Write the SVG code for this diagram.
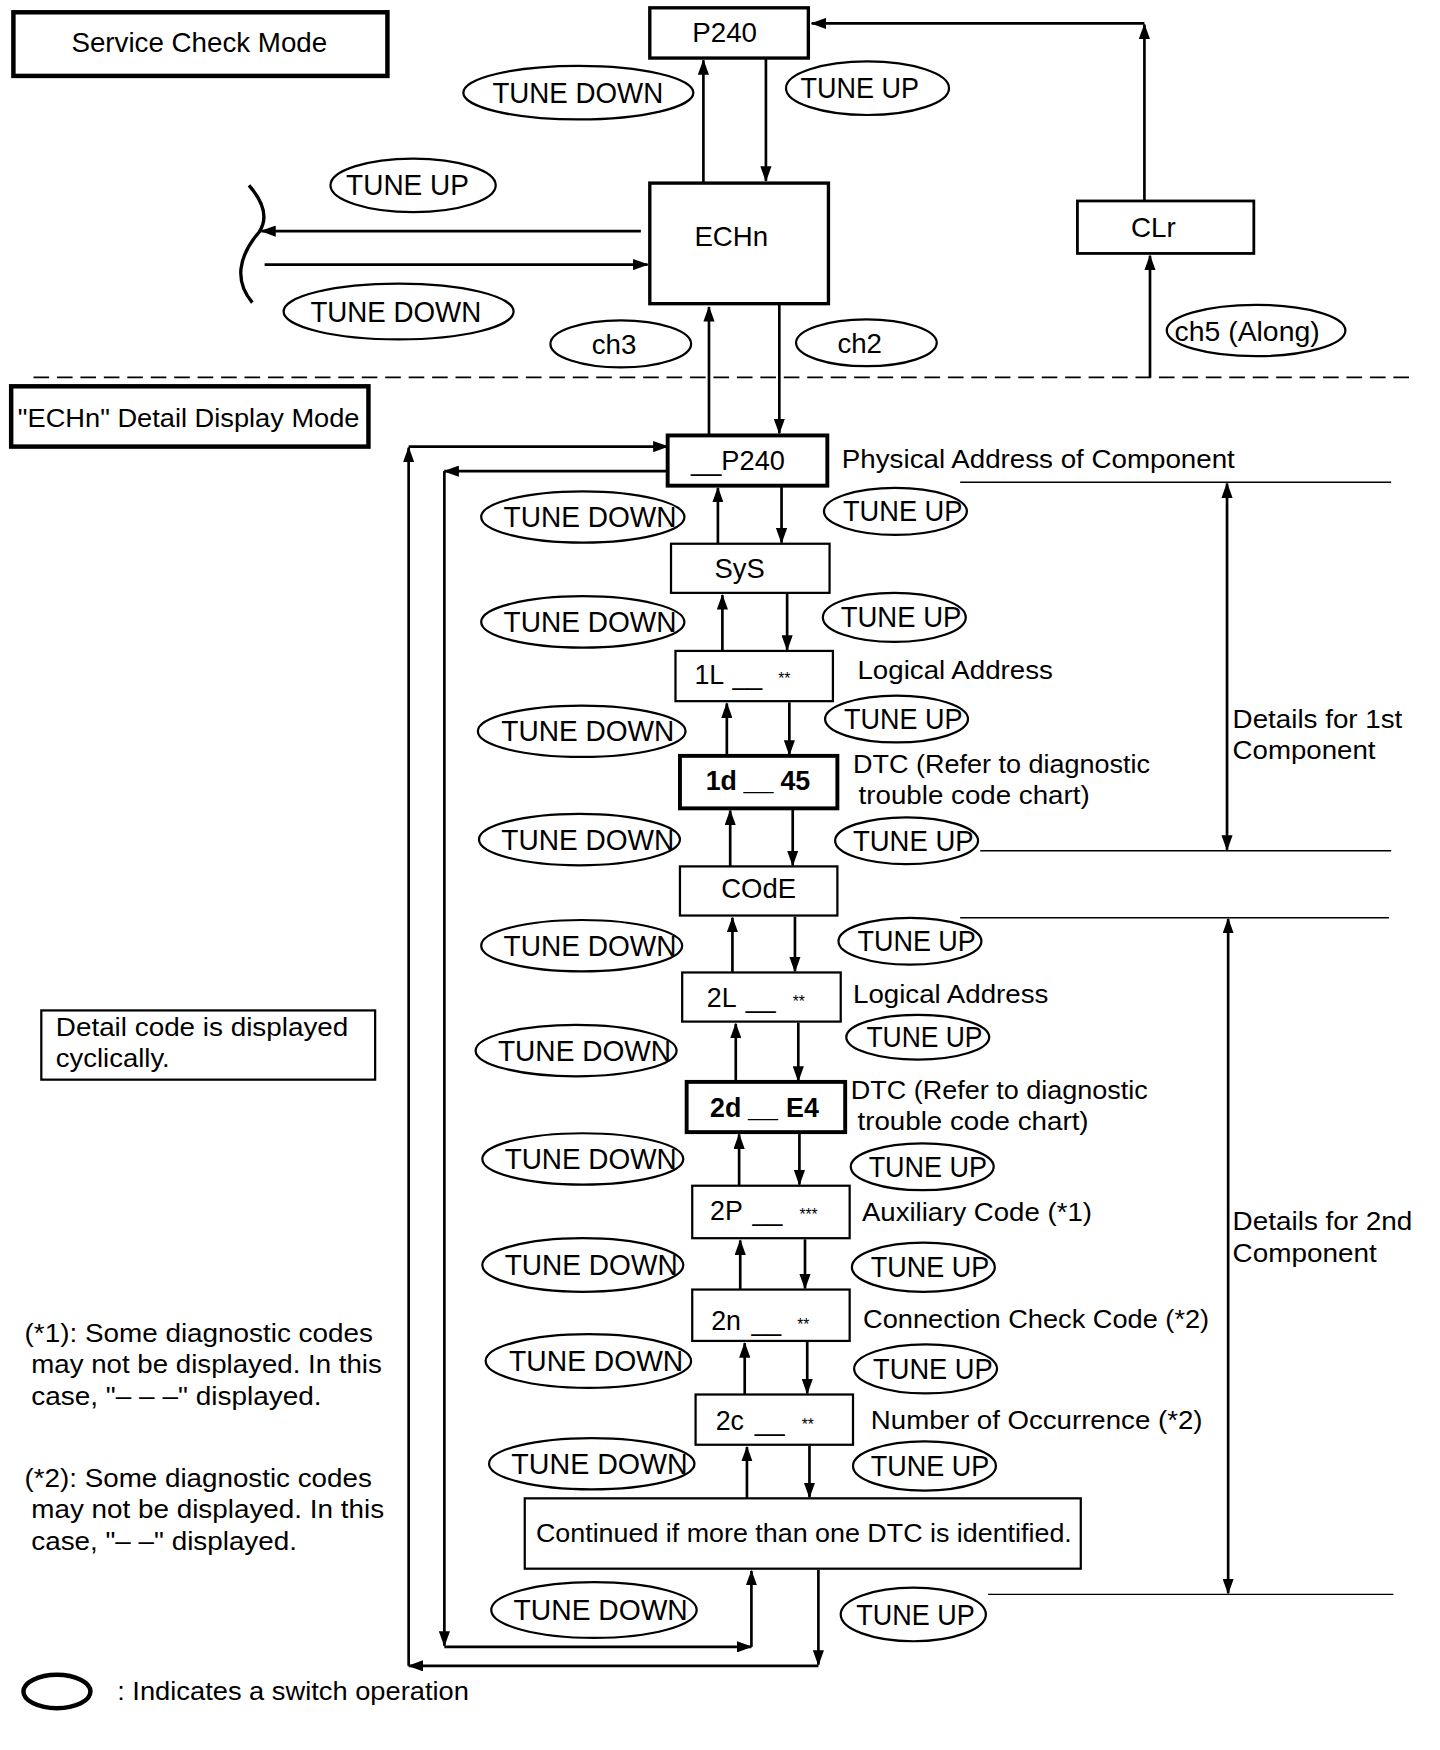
<svg xmlns="http://www.w3.org/2000/svg" width="1440" height="1750" viewBox="0 0 1440 1750">
<defs>
<style>
text{font-family:"Liberation Sans",Arial,Helvetica,sans-serif;fill:#000}
.box{fill:#fff;stroke:#000;stroke-width:2}
.thick{fill:#fff;stroke:#000;stroke-width:3.5}
.sw{fill:#fff;stroke:#000;stroke-width:2}
.ln{fill:none;stroke:#000;stroke-width:2.4}
.thin{fill:none;stroke:#000;stroke-width:1.3}
.ar{fill:none;stroke:#000;stroke-width:2.4;marker-end:url(#ah)}
.dar{fill:none;stroke:#000;stroke-width:2.4;marker-end:url(#ah);marker-start:url(#ah)}
.t26{font-size:26px}
.t24{font-size:24px}
.t23{font-size:23px}
.b{font-weight:bold}
</style>
<marker id="ah" viewBox="0 0 14 10" refX="13" refY="5" markerWidth="14" markerHeight="10" markerUnits="userSpaceOnUse" orient="auto-start-reverse">
<path d="M0,0 L14,5 L0,10 z" fill="#000"/>
</marker>
</defs>
<rect width="1440" height="1750" fill="#fff"/>
<g transform="scale(1.1165)">

<g id="connectors">
<path class="ar" d="M630,163 L630,54"/>
<path class="ar" d="M686,52 L686,162"/>
<path class="ar" d="M574,207 L234,207"/>
<path class="ar" d="M237,237 L580,237"/>
<path class="ar" d="M635,390 L635,275"/>
<path class="ar" d="M698,273 L698,388"/>
<path class="ar" d="M1030,338 L1030,229"/>
<path class="ar" d="M1025,180 L1025,22"/>
<path class="ar" d="M1025,21 L727,21"/>
<path d="M223,166 C237,182 240,196 232,208 C213,230 210,252 226,271" fill="none" stroke="#000" stroke-width="3"/>
<path d="M30,338 L1262,338" fill="none" stroke="#000" stroke-width="1.5" stroke-dasharray="14 7"/>

<path class="ar" d="M643,487 L643,437"/><path class="ar" d="M700,436 L700,486"/>
<path class="ar" d="M647,583 L647,533"/><path class="ar" d="M705,532 L705,582"/>
<path class="ar" d="M651,677 L651,630"/><path class="ar" d="M707,629 L707,676"/>
<path class="ar" d="M654,776 L654,726"/><path class="ar" d="M710,725 L710,775"/>
<path class="ar" d="M656,871 L656,822"/><path class="ar" d="M712,821 L712,870"/>
<path class="ar" d="M659,969 L659,917"/><path class="ar" d="M715,916 L715,968"/>
<path class="ar" d="M662,1062 L662,1016"/><path class="ar" d="M716,1015 L716,1061"/>
<path class="ar" d="M663,1155 L663,1111"/><path class="ar" d="M721,1110 L721,1154"/>
<path class="ar" d="M667,1249 L667,1203"/><path class="ar" d="M723,1202 L723,1248"/>
<path class="ar" d="M669,1342 L669,1296"/><path class="ar" d="M725,1295 L725,1341"/>

<path class="ar" d="M598,422 L398,422"/>
<path class="ar" d="M398,422 L398,1474"/>
<path class="ar" d="M398,1475 L673,1475"/>
<path class="ar" d="M673,1475 L673,1407"/>
<path class="ar" d="M733,1406 L733,1491"/>
<path class="ar" d="M733,1492 L366,1492"/>
<path class="ar" d="M366,1492 L366,401"/>
<path class="ar" d="M366,400 L598,400"/>

<path class="thin" d="M860,432 L1246,432"/>
<path class="thin" d="M878,762 L1246,762"/>
<path class="dar" d="M1099,433 L1099,761"/>
<path class="thin" d="M860,822 L1244,822"/>
<path class="thin" d="M885,1428 L1248,1428"/>
<path class="dar" d="M1100,823 L1100,1427"/>
</g>

<g id="service-check-mode">
<rect x="12" y="11" width="335" height="57" fill="#fff" stroke="#000" stroke-width="4"/>
<text x="64" y="47" class="t24" textLength="229" lengthAdjust="spacingAndGlyphs">Service Check Mode</text>
</g>
<g id="p240-top">
<rect x="582" y="7" width="142" height="45" fill="#fff" stroke="#000" stroke-width="3"/>
<text x="620" y="38" class="t24" textLength="58" lengthAdjust="spacingAndGlyphs">P240</text>
</g>
<g id="echn">
<rect x="582" y="164" width="160" height="108" fill="#fff" stroke="#000" stroke-width="3"/>
<text x="622" y="220" class="t24" textLength="66" lengthAdjust="spacingAndGlyphs">ECHn</text>
</g>
<g id="clr">
<rect x="965" y="180" width="158" height="47" fill="#fff" stroke="#000" stroke-width="2.5"/>
<text x="1013" y="212" class="t24" textLength="40" lengthAdjust="spacingAndGlyphs">CLr</text>
</g>

<g id="sw-top-down"><ellipse class="sw" cx="518" cy="83" rx="103" ry="24"/><text x="441" y="92" class="t26" textLength="153" lengthAdjust="spacingAndGlyphs">TUNE DOWN</text></g>
<g id="sw-top-up"><ellipse class="sw" cx="777" cy="79" rx="73" ry="24"/><text x="717" y="88" class="t26" textLength="106" lengthAdjust="spacingAndGlyphs">TUNE UP</text></g>
<g id="sw-left-up"><ellipse class="sw" cx="370" cy="166" rx="74" ry="24"/><text x="310" y="175" class="t26" textLength="110" lengthAdjust="spacingAndGlyphs">TUNE UP</text></g>
<g id="sw-left-down"><ellipse class="sw" cx="357" cy="279" rx="103" ry="25"/><text x="278" y="288" class="t26" textLength="153" lengthAdjust="spacingAndGlyphs">TUNE DOWN</text></g>
<g id="sw-ch3"><ellipse class="sw" cx="556" cy="308" rx="63" ry="21"/><text x="530" y="317" class="t24" textLength="40" lengthAdjust="spacingAndGlyphs">ch3</text></g>
<g id="sw-ch2"><ellipse class="sw" cx="776" cy="307" rx="63" ry="21"/><text x="750" y="316" class="t24" textLength="40" lengthAdjust="spacingAndGlyphs">ch2</text></g>
<g id="sw-ch5"><ellipse class="sw" cx="1125" cy="296" rx="80" ry="23"/><text x="1052" y="305" class="t24" textLength="130" lengthAdjust="spacingAndGlyphs">ch5 (Along)</text></g>

<g id="detail-mode">
<rect x="10" y="346" width="320" height="54" fill="#fff" stroke="#000" stroke-width="4"/>
<text x="16" y="382" class="t23" textLength="306" lengthAdjust="spacingAndGlyphs">"ECHn" Detail Display Mode</text>
</g>

<g id="n-p240">
<rect class="thick" x="598" y="390" width="143" height="45"/>
<text x="619" y="421" class="t24" textLength="84" lengthAdjust="spacingAndGlyphs">__P240</text>
<text x="754" y="419" class="t23" textLength="352" lengthAdjust="spacingAndGlyphs">Physical Address of Component</text>
</g>
<g id="n-sys">
<rect class="box" x="601" y="487" width="142" height="44"/>
<text x="640" y="518" class="t24" textLength="45" lengthAdjust="spacingAndGlyphs">SyS</text>
</g>
<g id="n-1l">
<rect class="box" x="605" y="583" width="141" height="45"/>
<text class="t24" y="613"><tspan x="622">1L</tspan><tspan x="656">__</tspan><tspan x="697" font-size="14">**</tspan></text>
<text x="768" y="608" class="t23" textLength="175" lengthAdjust="spacingAndGlyphs">Logical Address</text>
</g>
<g id="n-1d45">
<rect class="thick" x="609" y="677" width="141" height="47"/>
<text class="t24 b" y="708"><tspan x="632">1d</tspan><tspan x="666">__</tspan><tspan x="699">45</tspan></text>
<text x="764" y="692" class="t23" textLength="266" lengthAdjust="spacingAndGlyphs">DTC (Refer to diagnostic</text>
<text x="769" y="720" class="t23" textLength="207" lengthAdjust="spacingAndGlyphs">trouble code chart)</text>
</g>
<g id="n-code">
<rect class="box" x="609" y="776" width="141" height="44"/>
<text x="646" y="804" class="t24" textLength="67" lengthAdjust="spacingAndGlyphs">COdE</text>
</g>
<g id="n-2l">
<rect class="box" x="611" y="871" width="142" height="44"/>
<text class="t24" y="902"><tspan x="633">2L</tspan><tspan x="668">__</tspan><tspan x="710" font-size="14">**</tspan></text>
<text x="764" y="898" class="t23" textLength="175" lengthAdjust="spacingAndGlyphs">Logical Address</text>
</g>
<g id="n-2de4">
<rect class="thick" x="615" y="969" width="142" height="45"/>
<text class="t24 b" y="1000"><tspan x="636">2d</tspan><tspan x="670">__</tspan><tspan x="704">E4</tspan></text>
<text x="762" y="984" class="t23" textLength="266" lengthAdjust="spacingAndGlyphs">DTC (Refer to diagnostic</text>
<text x="768" y="1012" class="t23" textLength="207" lengthAdjust="spacingAndGlyphs">trouble code chart)</text>
</g>
<g id="n-2p">
<rect class="box" x="620" y="1062" width="141" height="47"/>
<text class="t24" y="1093"><tspan x="636">2P</tspan><tspan x="674">__</tspan><tspan x="716" font-size="14">***</tspan></text>
<text x="772" y="1094" class="t23" textLength="206" lengthAdjust="spacingAndGlyphs">Auxiliary Code (*1)</text>
</g>
<g id="n-2n">
<rect class="box" x="620" y="1155" width="141" height="46"/>
<text class="t24" y="1191"><tspan x="637">2n</tspan><tspan x="673">__</tspan><tspan x="714" font-size="14">**</tspan></text>
<text x="773" y="1189" class="t23" textLength="310" lengthAdjust="spacingAndGlyphs">Connection Check Code (*2)</text>
</g>
<g id="n-2c">
<rect class="box" x="623" y="1249" width="141" height="45"/>
<text class="t24" y="1281"><tspan x="641">2c</tspan><tspan x="676">__</tspan><tspan x="718" font-size="14">**</tspan></text>
<text x="780" y="1280" class="t23" textLength="297" lengthAdjust="spacingAndGlyphs">Number of Occurrence (*2)</text>
</g>
<g id="n-continued">
<rect class="box" x="470" y="1342" width="498" height="63"/>
<text x="480" y="1381" class="t23" textLength="480" lengthAdjust="spacingAndGlyphs">Continued if more than one DTC is identified.</text>
</g>

<g id="switches">
<g><ellipse class="sw" cx="522" cy="463" rx="91" ry="23"/><text x="451" y="472" class="t26" textLength="155" lengthAdjust="spacingAndGlyphs">TUNE DOWN</text></g>
<g><ellipse class="sw" cx="802" cy="458" rx="64" ry="21"/><text x="755" y="467" class="t26" textLength="107" lengthAdjust="spacingAndGlyphs">TUNE UP</text></g>
<g><ellipse class="sw" cx="522" cy="557" rx="91" ry="23"/><text x="451" y="566" class="t26" textLength="155" lengthAdjust="spacingAndGlyphs">TUNE DOWN</text></g>
<g><ellipse class="sw" cx="801" cy="553" rx="64" ry="22"/><text x="753" y="562" class="t26" textLength="108" lengthAdjust="spacingAndGlyphs">TUNE UP</text></g>
<g><ellipse class="sw" cx="521" cy="655" rx="93" ry="23"/><text x="449" y="664" class="t26" textLength="155" lengthAdjust="spacingAndGlyphs">TUNE DOWN</text></g>
<g><ellipse class="sw" cx="803" cy="644" rx="64" ry="21"/><text x="756" y="653" class="t26" textLength="106" lengthAdjust="spacingAndGlyphs">TUNE UP</text></g>
<g><ellipse class="sw" cx="519" cy="752" rx="90" ry="23"/><text x="449" y="761" class="t26" textLength="155" lengthAdjust="spacingAndGlyphs">TUNE DOWN</text></g>
<g><ellipse class="sw" cx="812" cy="753" rx="64" ry="21"/><text x="764" y="762" class="t26" textLength="108" lengthAdjust="spacingAndGlyphs">TUNE UP</text></g>
<g><ellipse class="sw" cx="521" cy="847" rx="90" ry="23"/><text x="451" y="856" class="t26" textLength="155" lengthAdjust="spacingAndGlyphs">TUNE DOWN</text></g>
<g><ellipse class="sw" cx="815" cy="843" rx="64" ry="21"/><text x="768" y="852" class="t26" textLength="106" lengthAdjust="spacingAndGlyphs">TUNE UP</text></g>
<g><ellipse class="sw" cx="516" cy="941" rx="90" ry="23"/><text x="446" y="950" class="t26" textLength="155" lengthAdjust="spacingAndGlyphs">TUNE DOWN</text></g>
<g><ellipse class="sw" cx="822" cy="929" rx="64" ry="20"/><text x="776" y="938" class="t26" textLength="104" lengthAdjust="spacingAndGlyphs">TUNE UP</text></g>
<g><ellipse class="sw" cx="522" cy="1038" rx="90" ry="23"/><text x="452" y="1047" class="t26" textLength="154" lengthAdjust="spacingAndGlyphs">TUNE DOWN</text></g>
<g><ellipse class="sw" cx="826" cy="1045" rx="64" ry="21"/><text x="778" y="1054" class="t26" textLength="106" lengthAdjust="spacingAndGlyphs">TUNE UP</text></g>
<g><ellipse class="sw" cx="522" cy="1133" rx="90" ry="24"/><text x="452" y="1142" class="t26" textLength="155" lengthAdjust="spacingAndGlyphs">TUNE DOWN</text></g>
<g><ellipse class="sw" cx="827" cy="1135" rx="64" ry="22"/><text x="780" y="1144" class="t26" textLength="106" lengthAdjust="spacingAndGlyphs">TUNE UP</text></g>
<g><ellipse class="sw" cx="527" cy="1219" rx="92" ry="24"/><text x="456" y="1228" class="t26" textLength="156" lengthAdjust="spacingAndGlyphs">TUNE DOWN</text></g>
<g><ellipse class="sw" cx="829" cy="1226" rx="64" ry="22"/><text x="782" y="1235" class="t26" textLength="107" lengthAdjust="spacingAndGlyphs">TUNE UP</text></g>
<g><ellipse class="sw" cx="530" cy="1311" rx="92" ry="23"/><text x="458" y="1320" class="t26" textLength="158" lengthAdjust="spacingAndGlyphs">TUNE DOWN</text></g>
<g><ellipse class="sw" cx="828" cy="1313" rx="64" ry="22"/><text x="780" y="1322" class="t26" textLength="106" lengthAdjust="spacingAndGlyphs">TUNE UP</text></g>
<g><ellipse class="sw" cx="532" cy="1442" rx="92" ry="25"/><text x="460" y="1451" class="t26" textLength="156" lengthAdjust="spacingAndGlyphs">TUNE DOWN</text></g>
<g><ellipse class="sw" cx="818" cy="1446" rx="65" ry="24"/><text x="767" y="1455" class="t26" textLength="106" lengthAdjust="spacingAndGlyphs">TUNE UP</text></g>
</g>

<g id="details-1st">
<text x="1104" y="652" class="t23" textLength="152" lengthAdjust="spacingAndGlyphs">Details for 1st</text>
<text x="1104" y="680" class="t23" textLength="128" lengthAdjust="spacingAndGlyphs">Component</text>
</g>
<g id="details-2nd">
<text x="1104" y="1102" class="t23" textLength="161" lengthAdjust="spacingAndGlyphs">Details for 2nd</text>
<text x="1104" y="1130" class="t23" textLength="129" lengthAdjust="spacingAndGlyphs">Component</text>
</g>

<g id="cyclic-note">
<rect class="box" x="37" y="905" width="299" height="62"/>
<text x="50" y="928" class="t23" textLength="262" lengthAdjust="spacingAndGlyphs">Detail code is displayed</text>
<text x="50" y="956" class="t23" textLength="102" lengthAdjust="spacingAndGlyphs">cyclically.</text>
</g>

<g id="footnotes">
<text x="22" y="1202" class="t23" textLength="312" lengthAdjust="spacingAndGlyphs">(*1): Some diagnostic codes</text>
<text x="28" y="1230" class="t23" textLength="314" lengthAdjust="spacingAndGlyphs">may not be displayed. In this</text>
<text x="28" y="1258" class="t23" textLength="260" lengthAdjust="spacingAndGlyphs">case, "– – –" displayed.</text>
<text x="22" y="1332" class="t23" textLength="311" lengthAdjust="spacingAndGlyphs">(*2): Some diagnostic codes</text>
<text x="28" y="1360" class="t23" textLength="316" lengthAdjust="spacingAndGlyphs">may not be displayed. In this</text>
<text x="28" y="1388" class="t23" textLength="238" lengthAdjust="spacingAndGlyphs">case, "– –" displayed.</text>
</g>

<g id="legend">
<ellipse cx="51" cy="1515" rx="30" ry="15" fill="#fff" stroke="#000" stroke-width="4"/>
<text x="105" y="1523" class="t23" textLength="315" lengthAdjust="spacingAndGlyphs">: Indicates a switch operation</text>
</g>

</g>
</svg>
